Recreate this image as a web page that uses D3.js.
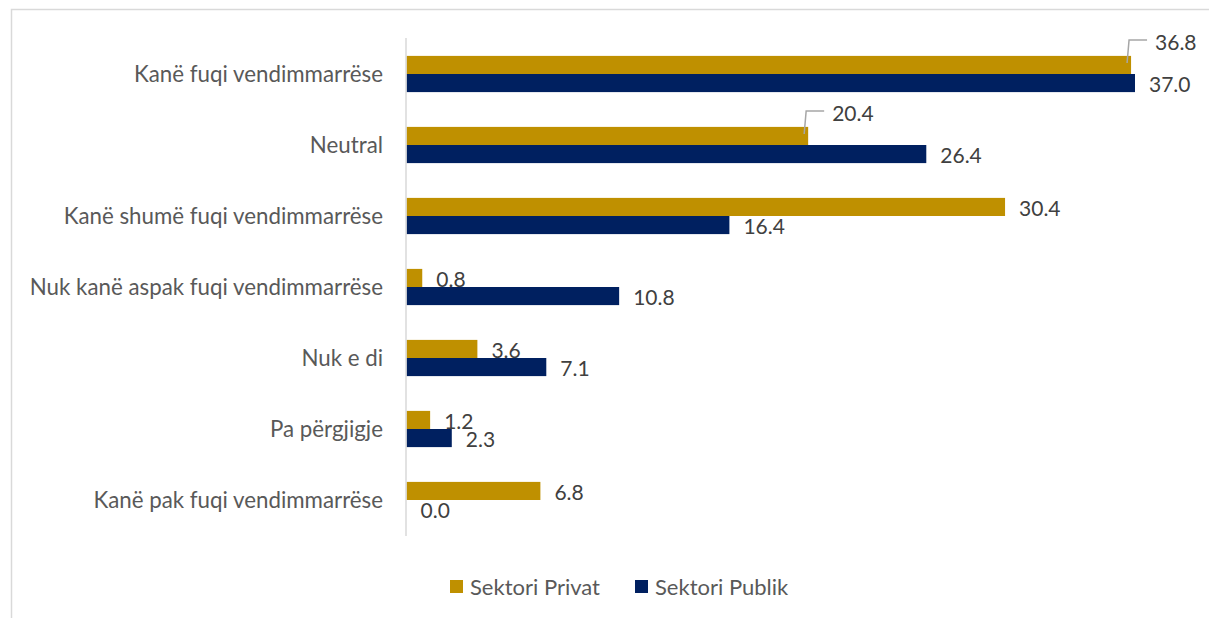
<!DOCTYPE html>
<html>
<head>
<meta charset="utf-8">
<script src="https://cdn.jsdelivr.net/npm/d3@7"></script>
<style>
  body { margin: 0; background: #fff; }
  text { font-family: Lato, "Open Sans", sans-serif; }
</style>
</head>
<body>
<svg id="chart" width="1209" height="618"></svg>
<script>
// data
var categories = ["Kanë fuqi vendimmarrëse", "Neutral", "Kanë shumë fuqi vendimmarrëse",
  "Nuk kanë aspak fuqi vendimmarrëse", "Nuk e di", "Pa përgjigje", "Kanë pak fuqi vendimmarrëse"];
var seriesNames = ["Sektori Privat", "Sektori Publik"];
var privat = [36.8, 20.4, 30.4, 0.8, 3.6, 1.2, 6.8];
var publik = [37.0, 26.4, 16.4, 10.8, 7.1, 2.3, 0.0];
var colors = ["#BF9000", "#002060"];

var svg = d3.select("#chart");

// frame of the chart area (runs off the right and bottom)
svg.append("rect")
  .attr("x", 11.5).attr("y", 9.5)
  .attr("width", 1400).attr("height", 800)
  .attr("fill", "none").attr("stroke", "#d9d9d9").attr("stroke-width", 1.5);

var x = d3.scaleLinear().domain([0, 37]).range([406.5, 1135]);
var y = d3.scaleBand().domain(categories).range([38.5, 535.5]).paddingInner(0.49).paddingOuter(0.245);
var ySub = d3.scaleBand().domain(seriesNames).range([0, y.bandwidth()]);

var rows = categories.map(function (c, i) {
  return { cat: c, vals: [privat[i], publik[i]] };
});

var g = svg.append("g");
var grp = g.selectAll("g.cat").data(rows).enter().append("g")
  .attr("transform", function (d) { return "translate(0," + y(d.cat) + ")"; });

grp.selectAll("rect").data(function (d) {
    return d.vals.map(function (v, j) { return { v: v, s: seriesNames[j], j: j }; });
  })
  .enter().append("rect")
  .attr("x", x(0))
  .attr("y", function (d) { return ySub(d.s); })
  .attr("width", function (d) { return x(d.v) - x(0); })
  .attr("height", ySub.bandwidth())
  .attr("fill", function (d) { return colors[d.j]; });

// axis line
svg.append("line")
  .attr("x1", x(0) - 0.5).attr("x2", x(0) - 0.5)
  .attr("y1", 38).attr("y2", 536)
  .attr("stroke", "#d9d9d9").attr("stroke-width", 1.5);

// category labels
svg.selectAll("text.cat").data(categories).enter().append("text")
  .attr("class", "cat")
  .attr("x", 383)
  .attr("y", function (d) { return y(d) + y.bandwidth() / 2; })
  .attr("dy", "0.35em")
  .attr("text-anchor", "end")
  .attr("font-size", 22.3)
  .attr("fill", "#595959")
  .text(function (d) { return d; });

// value labels; two Privat labels are pushed up with a leader line
var lifted = { 0: true, 1: true };
rows.forEach(function (r, i) {
  r.vals.forEach(function (v, j) {
    var by = y(r.cat) + ySub(seriesNames[j]) + ySub.bandwidth() / 2;
    var lx = x(v) + 14, ly = by + 2;
    if (j === 0 && lifted[i]) {
      lx = x(v) + 24;
      ly = by - 22;
      svg.append("path")
        .attr("d", "M" + (x(v) - 4) + "," + (by - 2) + "L" + (x(v) - 2) + "," + (ly - 3) + "L" + (lx - 8) + "," + (ly - 3))
        .attr("fill", "none").attr("stroke", "#a6a6a6").attr("stroke-width", 1.5);
    }
    svg.append("text")
      .attr("x", lx).attr("y", ly)
      .attr("dy", "0.35em")
      .attr("font-size", 21)
      .attr("fill", "#404040")
      .text(d3.format(".1f")(v));
  });
});

// legend
var leg = svg.append("g");
var legX = [450, 635];
seriesNames.forEach(function (s, j) {
  leg.append("rect").attr("x", legX[j]).attr("y", 580).attr("width", 13).attr("height", 13).attr("fill", colors[j]);
  leg.append("text").attr("x", legX[j] + 20).attr("y", 587).attr("dy", "0.35em")
    .attr("font-size", 22).attr("fill", "#595959").text(s);
});
</script>
</body>
</html>
